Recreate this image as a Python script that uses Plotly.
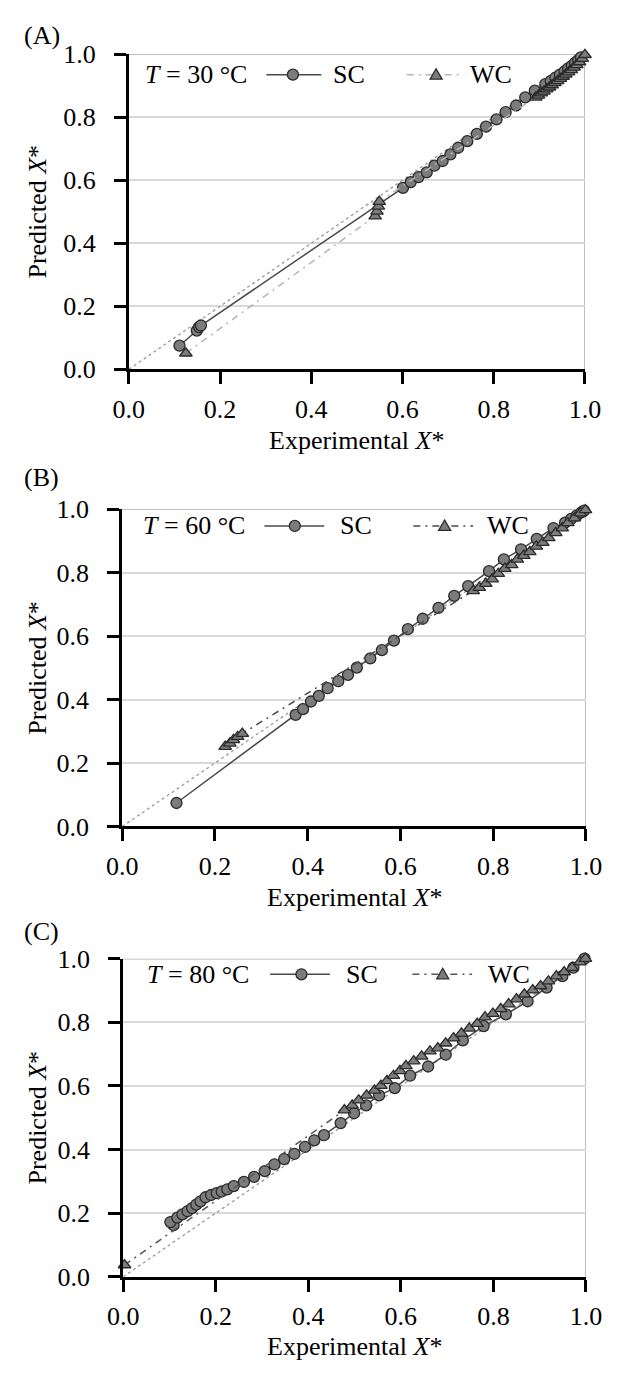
import plotly.graph_objects as go

W, H = 619, 1374
FONT = "Liberation Serif"

# ---------------- data ----------------
TICKS = [0.0, 0.2, 0.4, 0.6, 0.8, 1.0]
TICK_TEXT = ["0.0", "0.2", "0.4", "0.6", "0.8", "1.0"]
PANEL_LABELS = ["(A)", "(B)", "(C)"]
TEMPS = ["30", "60", "80"]
SERIES_NAMES = ["SC", "WC"]
DIAG = [0.0, 1.0]

# T = 30 °C
A_SC_X = [0.111, 0.149, 0.154, 0.158, 0.601, 0.618, 0.635, 0.653, 0.670, 0.688,
          0.705, 0.722, 0.742, 0.763, 0.783, 0.806, 0.826, 0.849, 0.869, 0.890,
          0.913, 0.925, 0.935, 0.945, 0.955, 0.963, 0.971, 0.978, 0.985, 0.991]
A_SC_Y = [0.075, 0.123, 0.134, 0.139, 0.576, 0.594, 0.610, 0.625, 0.646, 0.661,
          0.682, 0.703, 0.724, 0.747, 0.770, 0.793, 0.816, 0.837, 0.863, 0.884,
          0.905, 0.915, 0.925, 0.935, 0.945, 0.955, 0.963, 0.972, 0.981, 0.990]
A_WC_X = [0.125, 0.540, 0.544, 0.547, 0.549, 0.892, 0.898, 0.904, 0.910, 0.916,
          0.922, 0.928, 0.934, 0.940, 0.946, 0.952, 0.958, 0.964, 0.970, 0.976,
          0.982, 0.988, 0.994, 1.000]
A_WC_Y = [0.051, 0.486, 0.501, 0.517, 0.532, 0.863, 0.869, 0.876, 0.882, 0.889,
          0.895, 0.902, 0.909, 0.915, 0.922, 0.929, 0.936, 0.943, 0.950, 0.958,
          0.966, 0.975, 0.986, 0.998]

# T = 60 °C
B_SC_X = [0.117, 0.374, 0.390, 0.407, 0.424, 0.443, 0.466, 0.487, 0.506, 0.535,
          0.560, 0.586, 0.616, 0.648, 0.682, 0.716, 0.746, 0.791, 0.823, 0.860,
          0.894, 0.930, 0.955, 0.968, 0.980, 0.990, 0.996]
B_SC_Y = [0.074, 0.352, 0.370, 0.394, 0.412, 0.436, 0.458, 0.478, 0.501, 0.530,
          0.556, 0.586, 0.622, 0.655, 0.689, 0.727, 0.758, 0.805, 0.842, 0.874,
          0.907, 0.941, 0.958, 0.970, 0.980, 0.990, 0.996]
B_WC_X = [0.222, 0.232, 0.240, 0.249, 0.259, 0.757, 0.770, 0.784, 0.798, 0.811,
          0.825, 0.840, 0.852, 0.866, 0.879, 0.893, 0.907, 0.920, 0.935, 0.949,
          0.961, 0.975, 0.988, 0.999]
B_WC_Y = [0.252, 0.262, 0.273, 0.283, 0.293, 0.743, 0.753, 0.766, 0.780, 0.797,
          0.813, 0.825, 0.842, 0.854, 0.866, 0.883, 0.895, 0.910, 0.926, 0.941,
          0.957, 0.972, 0.988, 0.998]

# T = 80 °C
C_SC_X = [0.109, 0.102, 0.117, 0.128, 0.139, 0.149, 0.158, 0.167, 0.178, 0.190,
          0.202, 0.213, 0.225, 0.239, 0.261, 0.283, 0.306, 0.327, 0.348, 0.370,
          0.393, 0.413, 0.434, 0.470, 0.499, 0.525, 0.553, 0.587, 0.620, 0.659,
          0.697, 0.734, 0.779, 0.827, 0.874, 0.915, 0.949, 0.973, 0.997]
C_SC_Y = [0.162, 0.172, 0.186, 0.196, 0.206, 0.216, 0.227, 0.237, 0.250, 0.257,
          0.263, 0.268, 0.275, 0.285, 0.298, 0.314, 0.332, 0.353, 0.370, 0.386,
          0.408, 0.429, 0.445, 0.483, 0.514, 0.539, 0.570, 0.593, 0.632, 0.661,
          0.698, 0.743, 0.788, 0.825, 0.866, 0.909, 0.945, 0.972, 1.000]
C_WC_X = [0.003, 0.478, 0.495, 0.509, 0.526, 0.543, 0.557, 0.570, 0.584, 0.598,
          0.611, 0.628, 0.645, 0.663, 0.680, 0.697, 0.714, 0.731, 0.748, 0.765,
          0.782, 0.799, 0.816, 0.833, 0.850, 0.867, 0.885, 0.902, 0.919, 0.936,
          0.953, 0.970, 0.987, 0.999]
C_WC_Y = [0.037, 0.524, 0.539, 0.555, 0.570, 0.586, 0.601, 0.616, 0.632, 0.647,
          0.663, 0.678, 0.693, 0.709, 0.719, 0.734, 0.750, 0.765, 0.781, 0.796,
          0.816, 0.827, 0.842, 0.857, 0.873, 0.888, 0.901, 0.914, 0.929, 0.945,
          0.958, 0.972, 0.989, 1.000]

SC_DATA = [(A_SC_X, A_SC_Y), (B_SC_X, B_SC_Y), (C_SC_X, C_SC_Y)]
WC_DATA = [(A_WC_X, A_WC_Y), (B_WC_X, B_WC_Y), (C_WC_X, C_WC_Y)]

# ---------------- layout geometry (pixels) ----------------
# plot boxes: left, right, top, bottom
BOXES = [(119, 600, 41, 363), (112, 601, 506, 830), (113, 601, 965, 1290)]
LABEL_Y = [22, 473, 937]
XTITLE_OFFSET = [73, 73, 71]
# legend row per panel: centre y, T-text x, SC line, SC marker, SC text, WC line, WC marker, WC text
LEGENDS = [
    dict(y=62, t=134, sc=(264, 322), scm=292, sct=332, wc=(412, 469), wcm=443, wct=477),
    dict(y=523, t=132, sc=(262, 325), scm=294, sct=340, wc=(419, 482), wcm=452, wct=495),
    dict(y=981, t=136, sc=(268, 331), scm=301, sct=346, wc=(418, 481), wcm=450, wct=496),
]
WC_LINE_COLORS = ["#b5b5b5", "#4a4a4a", "#555555"]
SC_LINE_COLOR = "#4a4a4a"
MARKER_FILL = "#7c7c7c"
MARKER_EDGE = "#2a2a2a"
DASHDOT = "7px,5px,2px,5px"
FONT_SIZE = 26


def fx(px):
    return px / W


def fy(py):
    return 1 - py / H


fig = go.Figure()
annotations = []
shapes = []
text_font = dict(family=FONT, size=FONT_SIZE, color="black")

for i in range(3):
    left, right, top, bottom = BOXES[i]
    sfx = "" if i == 0 else str(i + 1)
    xref, yref = "x" + sfx, "y" + sfx

    # 1:1 reference line
    fig.add_trace(go.Scatter(x=DIAG, y=DIAG, xaxis=xref, yaxis=yref, mode="lines",
                             line=dict(color="#9a9a9a", width=1.3, dash="dot"),
                             hoverinfo="skip"))
    sx, sy = SC_DATA[i]
    fig.add_trace(go.Scatter(x=sx, y=sy, xaxis=xref, yaxis=yref, mode="lines+markers",
                             name=SERIES_NAMES[0], cliponaxis=False,
                             line=dict(color=SC_LINE_COLOR, width=1.5),
                             marker=dict(symbol="circle", size=11, color=MARKER_FILL,
                                         line=dict(color=MARKER_EDGE, width=1.3))))
    wx, wy = WC_DATA[i]
    fig.add_trace(go.Scatter(x=wx, y=wy, xaxis=xref, yaxis=yref, mode="lines+markers",
                             name=SERIES_NAMES[1], cliponaxis=False,
                             line=dict(color=WC_LINE_COLORS[i], width=1.5, dash=DASHDOT),
                             marker=dict(symbol="triangle-up", size=11, color=MARKER_FILL,
                                         line=dict(color=MARKER_EDGE, width=1.3))))

    axis_common = dict(range=[0, 1], tickvals=TICKS, ticktext=TICK_TEXT,
                       showline=True, linecolor="black", linewidth=3,
                       ticks="outside", ticklen=12, tickwidth=3, tickcolor="black",
                       zeroline=False, tickfont=text_font, fixedrange=True)
    fig.layout["xaxis" + sfx] = dict(axis_common, domain=[fx(left), fx(right)],
                                     anchor=yref, showgrid=False, ticklabelstandoff=2)
    fig.layout["yaxis" + sfx] = dict(axis_common, domain=[fy(bottom), fy(top)],
                                     anchor=xref, showgrid=True, gridcolor="#d9d9d9",
                                     gridwidth=1.5, ticklabelstandoff=13)

    # top and right frame lines
    shapes.append(dict(type="line", xref=xref, yref=yref, x0=0, x1=1, y0=1, y1=1,
                       line=dict(color="#ababab", width=1.5), layer="below"))
    shapes.append(dict(type="line", xref=xref, yref=yref, x0=1, x1=1, y0=0, y1=1,
                       line=dict(color="#ababab", width=1.5), layer="below"))

    # panel label and axis titles
    annotations.append(dict(text=PANEL_LABELS[i], x=fx(6), y=fy(LABEL_Y[i]),
                            xref="paper", yref="paper", xanchor="left", yanchor="middle",
                            showarrow=False, font=text_font))
    annotations.append(dict(text="Experimental <i>X</i>*", x=fx((left + right) / 2),
                            y=fy(bottom + XTITLE_OFFSET[i]), xref="paper", yref="paper",
                            xanchor="center", yanchor="middle", showarrow=False,
                            font=text_font))
    annotations.append(dict(text="Predicted <i>X</i>*", x=fx(23), y=fy((top + bottom) / 2),
                            xref="paper", yref="paper", xanchor="center", yanchor="middle",
                            textangle=-90, showarrow=False, font=text_font))

    # legend row
    lg = LEGENDS[i]
    ly = fy(lg["y"])
    annotations.append(dict(text="<i>T</i> = " + TEMPS[i] + " °C", x=fx(lg["t"]), y=ly,
                            xref="paper", yref="paper", xanchor="left", yanchor="middle",
                            showarrow=False, font=text_font))
    shapes.append(dict(type="line", xref="paper", yref="paper",
                       x0=fx(lg["sc"][0]), x1=fx(lg["sc"][1]), y0=ly, y1=ly,
                       line=dict(color=SC_LINE_COLOR, width=1.5)))
    shapes.append(dict(type="circle", xref="paper", yref="paper",
                       xsizemode="pixel", ysizemode="pixel",
                       xanchor=fx(lg["scm"]), yanchor=ly,
                       x0=-5.5, x1=5.5, y0=-5.5, y1=5.5,
                       fillcolor=MARKER_FILL, line=dict(color=MARKER_EDGE, width=1.3)))
    annotations.append(dict(text=SERIES_NAMES[0], x=fx(lg["sct"]), y=ly,
                            xref="paper", yref="paper", xanchor="left", yanchor="middle",
                            showarrow=False, font=text_font))
    shapes.append(dict(type="line", xref="paper", yref="paper",
                       x0=fx(lg["wc"][0]), x1=fx(lg["wc"][1]), y0=ly, y1=ly,
                       line=dict(color=WC_LINE_COLORS[i], width=1.5, dash=DASHDOT)))
    shapes.append(dict(type="path", xref="paper", yref="paper",
                       xsizemode="pixel", ysizemode="pixel",
                       xanchor=fx(lg["wcm"]), yanchor=ly,
                       path="M-6,-4.5 L6,-4.5 L0,6 Z",
                       fillcolor=MARKER_FILL, line=dict(color=MARKER_EDGE, width=1.3)))
    annotations.append(dict(text=SERIES_NAMES[1], x=fx(lg["wct"]), y=ly,
                            xref="paper", yref="paper", xanchor="left", yanchor="middle",
                            showarrow=False, font=text_font))

fig.update_layout(width=W, height=H, margin=dict(l=0, r=0, t=0, b=0),
                  paper_bgcolor="white", plot_bgcolor="white", showlegend=False,
                  font=text_font, annotations=annotations, shapes=shapes)

fig.write_html("out.html", config={"displayModeBar": False})
